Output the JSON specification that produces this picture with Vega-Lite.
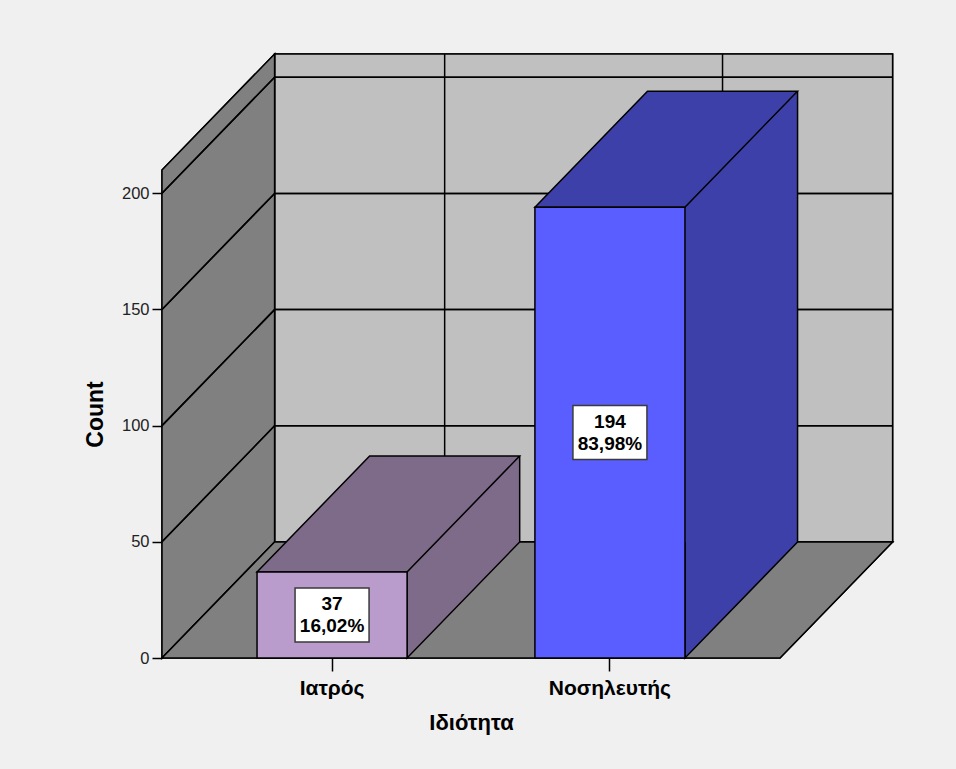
{
  "$schema": "https://vega.github.io/schema/vega-lite/v6.json",
  "width": 618,
  "height": 488,
  "autosize": {"type": "none"},
  "padding": {"left": 162, "top": 170, "right": 176, "bottom": 111},
  "background": "#f0f0f0",
  "config": {
    "view": {"stroke": null},
    "font": "Liberation Sans",
    "locale": {"number": {"decimal": ",", "thousands": ".", "grouping": [3], "currency": ["", " €"]}}
  },
  "datasets": {
    "roles": [
      {"role": "Ιατρός", "count": 37, "share": 0.1602},
      {"role": "Νοσηλευτής", "count": 194, "share": 0.8398}
    ]
  },
  "data": {"name": "roles"},
  "layer": [
    {
      "resolve": {"scale": {"fill": "independent"}},
      "layer": [
        {
          "mark": {"type": "rect", "fill": "#c0c0c0", "stroke": "black", "strokeWidth": 1.5, "xOffset": 112.6, "x2Offset": 112.6, "yOffset": -116, "y2Offset": -116},
          "encoding": {
            "x": {"value": 0}, "x2": {"value": "width"},
            "y": {"datum": 210, "scale": {"domain": [0, 210], "nice": false}},
            "y2": {"datum": 0}
          }
        },
        {
          "mark": {"type": "rule", "color": "black", "strokeWidth": 1.5, "xOffset": 112.6, "x2Offset": 112.6, "yOffset": -116},
          "encoding": {"x": {"value": 0}, "x2": {"value": "width"}, "y": {"datum": 50, "scale": {"domain": [0, 210], "nice": false}}}
        },
        {
          "mark": {"type": "rule", "color": "black", "strokeWidth": 1.5, "xOffset": 112.6, "x2Offset": 112.6, "yOffset": -116},
          "encoding": {"x": {"value": 0}, "x2": {"value": "width"}, "y": {"datum": 100, "scale": {"domain": [0, 210], "nice": false}}}
        },
        {
          "mark": {"type": "rule", "color": "black", "strokeWidth": 1.5, "xOffset": 112.6, "x2Offset": 112.6, "yOffset": -116},
          "encoding": {"x": {"value": 0}, "x2": {"value": "width"}, "y": {"datum": 150, "scale": {"domain": [0, 210], "nice": false}}}
        },
        {
          "mark": {"type": "rule", "color": "black", "strokeWidth": 1.5, "xOffset": 112.6, "x2Offset": 112.6, "yOffset": -116},
          "encoding": {"x": {"value": 0}, "x2": {"value": "width"}, "y": {"datum": 200, "scale": {"domain": [0, 210], "nice": false}}}
        },
        {
          "mark": {"type": "rule", "color": "black", "strokeWidth": 1.5, "xOffset": 112.6, "yOffset": -116, "y2Offset": -116},
          "encoding": {
            "x": {"field": "role", "type": "nominal", "scale": {"paddingInner": 0.46, "paddingOuter": 0.342}},
            "y": {"datum": 0, "scale": {"domain": [0, 210], "nice": false}},
            "y2": {"datum": 210}
          }
        },
        {
          "mark": {"type": "point", "shape": "M0,0V-488L112.6,-604V-116Z", "size": 4, "filled": true, "opacity": 1, "fill": "#808080", "stroke": "black", "strokeWidth": 1.5},
          "encoding": {"x": {"value": 0}, "y": {"datum": 0, "scale": {"domain": [0, 210], "nice": false}}}
        },
        {
          "mark": {"type": "rule", "color": "black", "strokeWidth": 1.5, "x2Offset": 112.6, "y2Offset": -116},
          "encoding": {"x": {"value": 0}, "x2": {"value": 0}, "y": {"datum": 50, "scale": {"domain": [0, 210], "nice": false}}, "y2": {"datum": 50}}
        },
        {
          "mark": {"type": "rule", "color": "black", "strokeWidth": 1.5, "x2Offset": 112.6, "y2Offset": -116},
          "encoding": {"x": {"value": 0}, "x2": {"value": 0}, "y": {"datum": 100, "scale": {"domain": [0, 210], "nice": false}}, "y2": {"datum": 100}}
        },
        {
          "mark": {"type": "rule", "color": "black", "strokeWidth": 1.5, "x2Offset": 112.6, "y2Offset": -116},
          "encoding": {"x": {"value": 0}, "x2": {"value": 0}, "y": {"datum": 150, "scale": {"domain": [0, 210], "nice": false}}, "y2": {"datum": 150}}
        },
        {
          "mark": {"type": "rule", "color": "black", "strokeWidth": 1.5, "x2Offset": 112.6, "y2Offset": -116},
          "encoding": {"x": {"value": 0}, "x2": {"value": 0}, "y": {"datum": 200, "scale": {"domain": [0, 210], "nice": false}}, "y2": {"datum": 200}}
        },
        {
          "mark": {"type": "point", "shape": "M0,0H618L730.6,-116H112.6Z", "size": 4, "filled": true, "opacity": 1, "fill": "#808080", "stroke": "black", "strokeWidth": 1.5},
          "encoding": {"x": {"value": 0}, "y": {"datum": 0, "scale": {"domain": [0, 210], "nice": false}}}
        },
        {
          "mark": {"type": "bar", "strokeWidth": 0, "xOffset": 112.6, "yOffset": -116, "y2Offset": -116},
          "encoding": {
            "x": {"field": "role", "type": "nominal", "scale": {"paddingInner": 0.46, "paddingOuter": 0.342}},
            "y": {"field": "count", "type": "quantitative", "scale": {"domain": [0, 210], "nice": false}},
            "y2": {"datum": 0},
            "fill": {"field": "role", "type": "nominal", "legend": null, "scale": {"range": ["#7e6a89", "#3d40a8"]}}
          }
        },
        {
          "mark": {"type": "point", "shape": "M0,-116V0L112.6,-116", "size": 4, "filled": true, "opacity": 1, "stroke": "black", "strokeWidth": 1.5},
          "encoding": {
            "x": {"field": "role", "type": "nominal", "bandPosition": 1, "scale": {"paddingInner": 0.46, "paddingOuter": 0.342}},
            "y": {"datum": 0, "scale": {"domain": [0, 210], "nice": false}},
            "fill": {"field": "role", "type": "nominal", "legend": null, "scale": {"range": ["#7e6a89", "#3d40a8"]}}
          }
        },
        {
          "mark": {"type": "point", "shape": "M0,0H150L262.6,-116H112.6Z", "size": 4, "filled": true, "opacity": 1, "stroke": "black", "strokeWidth": 1.5},
          "encoding": {
            "x": {"field": "role", "type": "nominal", "bandPosition": 0, "scale": {"paddingInner": 0.46, "paddingOuter": 0.342}},
            "y": {"field": "count", "type": "quantitative", "scale": {"domain": [0, 210], "nice": false}},
            "fill": {"field": "role", "type": "nominal", "legend": null, "scale": {"range": ["#7e6a89", "#3d40a8"]}}
          }
        },
        {
          "mark": {"type": "rule", "color": "black", "strokeWidth": 1.5, "xOffset": 112.6, "yOffset": -116, "y2Offset": -116},
          "encoding": {
            "x": {"field": "role", "type": "nominal", "bandPosition": 1, "scale": {"paddingInner": 0.46, "paddingOuter": 0.342}},
            "y": {"field": "count", "type": "quantitative", "scale": {"domain": [0, 210], "nice": false}},
            "y2": {"datum": 0}
          }
        },
        {
          "mark": {"type": "bar", "stroke": "black", "strokeWidth": 1.5},
          "encoding": {
            "x": {
              "field": "role", "type": "nominal",
              "scale": {"paddingInner": 0.46, "paddingOuter": 0.342},
              "axis": {
                "title": "Ιδιότητα", "labelAngle": 0, "labelAlign": "center", "labelBaseline": "top",
                "domain": false, "grid": false, "zindex": 1,
                "tickColor": "black", "tickSize": 13, "tickWidth": 1.5,
                "labelFontSize": 21, "labelFontWeight": "bold", "labelColor": "black", "labelPadding": 6,
                "titleFontSize": 22, "titleFontWeight": "bold", "titleColor": "black", "titlePadding": 14
              }
            },
            "y": {
              "field": "count", "type": "quantitative",
              "scale": {"domain": [0, 210], "nice": false},
              "axis": {
                "title": "Count", "values": [0, 50, 100, 150, 200], "domain": false, "grid": false, "zindex": 1,
                "tickColor": "black", "tickSize": 10, "tickWidth": 1.5,
                "labelFontSize": 16.5, "labelColor": "#222222", "labelPadding": 3,
                "titleFontSize": 23, "titleFontWeight": "bold", "titleColor": "black", "titlePadding": 14
              }
            },
            "y2": {"datum": 0},
            "fill": {"field": "role", "type": "nominal", "legend": null, "scale": {"range": ["#b99bcc", "#5b5eff"]}}
          }
        }
      ]
    },
    {
      "encoding": {
        "x": {"field": "role", "type": "nominal", "scale": {"paddingInner": 0.46, "paddingOuter": 0.342}},
        "y": {"field": "count", "type": "quantitative", "axis": null, "scale": {"domain": [0, 420], "nice": false}}
      },
      "layer": [
        {"mark": {"type": "point", "shape": "M-37,-27H37V27H-37Z", "size": 4, "filled": true, "opacity": 1, "fill": "white", "stroke": "#3a3a3a", "strokeWidth": 1.5}},
        {
          "mark": {"type": "text", "dy": -11, "fontSize": 19, "fontWeight": "bold", "color": "black", "baseline": "middle"},
          "encoding": {"text": {"field": "count", "type": "quantitative"}}
        },
        {
          "mark": {"type": "text", "dy": 11, "fontSize": 19, "fontWeight": "bold", "color": "black", "baseline": "middle"},
          "encoding": {"text": {"field": "share", "type": "quantitative", "format": ".2%"}}
        }
      ]
    }
  ],
  "resolve": {"scale": {"y": "independent"}, "axis": {"y": "independent"}}
}
